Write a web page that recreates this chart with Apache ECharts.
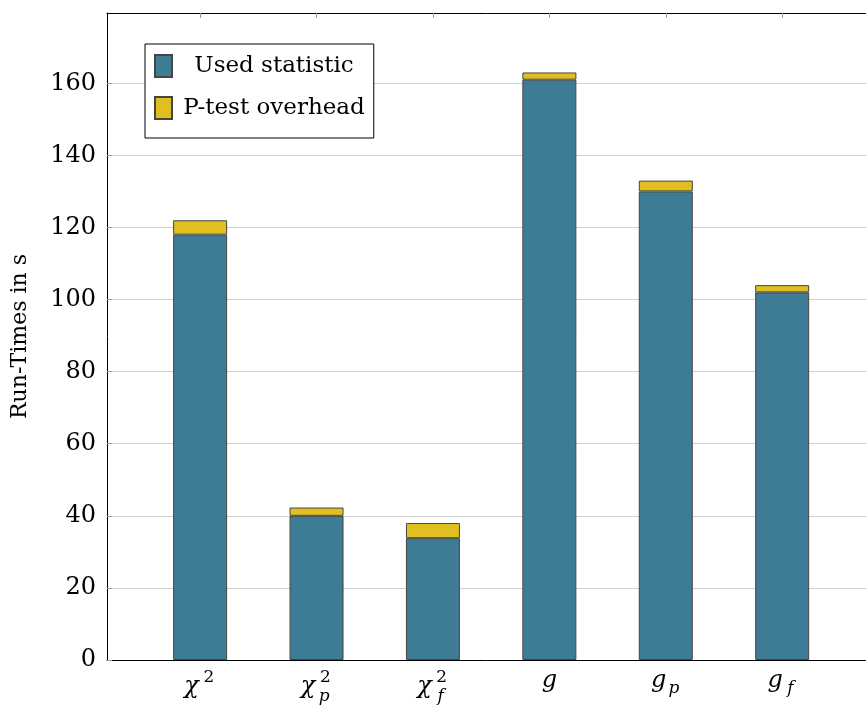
<!DOCTYPE html>
<html>
<head>
<meta charset="utf-8">
<script src="https://cdn.jsdelivr.net/npm/echarts@6/dist/echarts.min.js"></script>
<style>
  html, body { margin: 0; padding: 0; background: #fff; }
  #chart { width: 866px; height: 706px; }
</style>
</head>
<body>
<div id="chart"></div>
<script>
// Statistic variants (base symbol, superscript, subscript)
const categories = [
  { base: 'χ', sup: '2', sub: '' },
  { base: 'χ', sup: '2', sub: 'p' },
  { base: 'χ', sup: '2', sub: 'f' },
  { base: 'g', sup: '', sub: '' },
  { base: 'g', sup: '', sub: 'p' },
  { base: 'g', sup: '', sub: 'f' }
];
// Run-times in seconds
const usedStatistic = [118, 40, 33.8, 161, 130, 102];
const pTestOverhead = [4, 2.3, 4.2, 2, 3, 2];
const yTicks = [0, 20, 40, 60, 80, 100, 120, 140, 160];

const FONT = 'DejaVu Serif';
const BLUE = '#3e7b94';
const YELLOW = '#e0c020';
const EDGE = '#454545';

// Frame axis range (in category units, first category at 0)
const X_MIN = -0.8, X_MAX = 5.72, Y_MAX = 179.5;
const PLOT_LEFT = 107, PLOT_RIGHT = 0, PLOT_TOP = 13, PLOT_BOTTOM = 46;
const unit = (866 - PLOT_LEFT - PLOT_RIGHT) / (X_MAX - X_MIN);
const catNames = categories.map((c, i) => String(i));

function mainLabel(v) {
  const c = categories[+v];
  if (!c) return '';
  const tail = c.sup ? '{sup|' + c.sup + '}' : (c.sub ? '{gap|}' : '');
  return '{m|' + c.base + '}' + tail;
}
function subLabel(v) {
  const c = categories[+v];
  if (!c || !c.sub) return '';
  const style = c.sup ? 'subLow' : 'subHigh';
  return '{h|' + c.base + '}{' + style + '|' + c.sub + '}';
}

const chart = echarts.init(document.getElementById('chart'));
chart.setOption({
  animation: false,
  grid: [
    { left: PLOT_LEFT, right: PLOT_RIGHT, top: PLOT_TOP, bottom: PLOT_BOTTOM, outerBoundsMode: 'none', containLabel: false },
    {
      left: PLOT_LEFT + (0 - X_MIN - 0.5) * unit,
      right: PLOT_RIGHT + (X_MAX - 5.5) * unit,
      top: PLOT_TOP, bottom: PLOT_BOTTOM, outerBoundsMode: 'none', containLabel: false
    }
  ],
  legend: {
    left: 145, top: 44, orient: 'vertical',
    backgroundColor: '#fff',
    borderColor: '#000', borderWidth: 1,
    padding: [10, 9, 18, 9],
    itemWidth: 17, itemHeight: 22, itemGap: 18,
    icon: 'rect',
    formatter: name => '{c|' + name + '}',
    textStyle: {
      fontFamily: FONT, fontSize: 23, color: '#000',
      rich: { c: { fontFamily: FONT, fontSize: 23, color: '#000', width: 194, align: 'center' } }
    },
    data: ['Used statistic', 'P-test overhead']
  },
  xAxis: [
    {
      gridIndex: 0, type: 'value', min: X_MIN, max: X_MAX, position: 'bottom',
      axisLine: { show: true, onZero: false, lineStyle: { color: '#000', width: 1 } },
      axisTick: { show: false }, axisLabel: { show: false }, splitLine: { show: false }
    },
    {
      gridIndex: 0, type: 'value', min: X_MIN, max: X_MAX, position: 'top',
      axisLine: { show: true, onZero: false, lineStyle: { color: '#000', width: 1 } },
      axisTick: { show: true, inside: true, length: 5, customValues: [0, 1, 2, 3, 4, 5], lineStyle: { color: '#999' } },
      axisLabel: { show: false }, splitLine: { show: false }
    },
    {
      gridIndex: 1, type: 'category', data: catNames, position: 'bottom',
      axisLine: { show: false, onZero: false }, axisTick: { show: false }, splitLine: { show: false },
      axisLabel: {
        margin: 9, interval: 0,
        formatter: v => mainLabel(v),
        rich: {
          m: { fontFamily: FONT, fontStyle: 'italic', fontSize: 24, color: '#000' },
          sup: { fontFamily: FONT, fontSize: 17, color: '#000', width: 14, align: 'left', padding: [0, 0, 18, 3] },
          gap: { width: 14, fontSize: 17 }
        }
      }
    },
    {
      gridIndex: 1, type: 'category', data: catNames, position: 'bottom',
      axisLine: { show: false, onZero: false }, axisTick: { show: false }, splitLine: { show: false },
      axisLabel: {
        margin: 20, interval: 0,
        formatter: v => subLabel(v),
        rich: {
          h: { fontFamily: FONT, fontStyle: 'italic', fontSize: 24, color: 'rgba(0,0,0,0)' },
          subLow: { fontFamily: FONT, fontStyle: 'italic', fontSize: 17, color: '#000', width: 14, align: 'left', padding: [8, 0, 0, 1] },
          subHigh: { fontFamily: FONT, fontStyle: 'italic', fontSize: 17, color: '#000', width: 14, align: 'left', padding: [0, 0, 12, 1] }
        }
      }
    }
  ],
  yAxis: [
    {
      gridIndex: 0, type: 'value', min: 0, max: Y_MAX, interval: 20,
      name: 'Run-Times in s', nameLocation: 'middle', nameGap: 76,
      nameTextStyle: { fontFamily: FONT, fontSize: 22, color: '#000' },
      axisLine: { show: true, onZero: false, lineStyle: { color: '#000', width: 1 } },
      axisTick: { show: true, inside: true, length: 5, customValues: yTicks, lineStyle: { color: '#999' } },
      axisLabel: { customValues: yTicks, margin: 11, fontFamily: FONT, fontSize: 24, color: '#000' },
      splitLine: { show: true, lineStyle: { color: '#cfcfcf', width: 1 } }
    },
    {
      gridIndex: 1, type: 'value', min: 0, max: Y_MAX,
      axisLine: { show: false }, axisTick: { show: false }, axisLabel: { show: false }, splitLine: { show: false }
    }
  ],
  series: [
    {
      name: 'Used statistic', type: 'bar', stack: 'runtime',
      xAxisIndex: 2, yAxisIndex: 1, barWidth: 54,
      itemStyle: { color: BLUE, borderColor: EDGE, borderWidth: 1 },
      data: usedStatistic
    },
    {
      name: 'P-test overhead', type: 'bar', stack: 'runtime',
      xAxisIndex: 2, yAxisIndex: 1, barWidth: 54,
      itemStyle: { color: YELLOW, borderColor: EDGE, borderWidth: 1 },
      data: pTestOverhead
    }
  ]
});
</script>
</body>
</html>
